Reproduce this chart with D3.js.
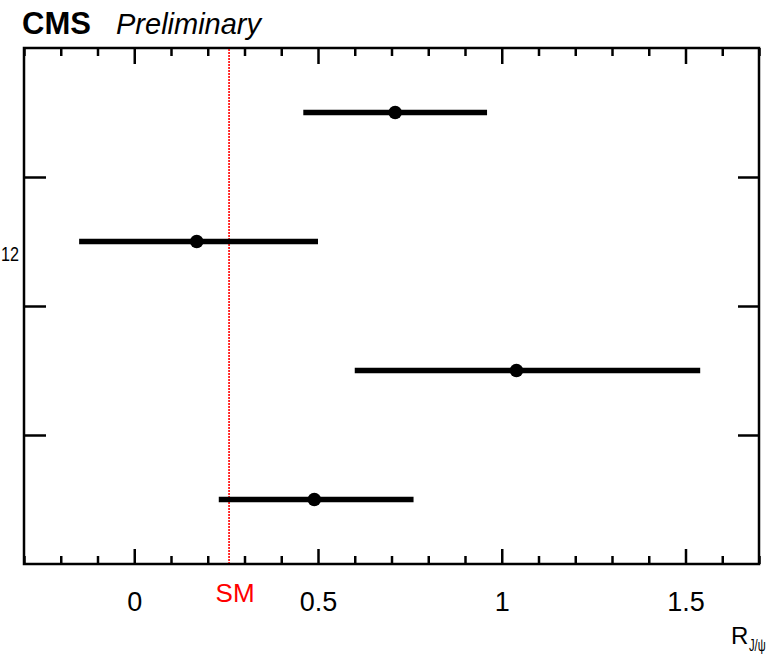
<!DOCTYPE html>
<html>
<head>
<meta charset="utf-8">
<script src="https://cdn.jsdelivr.net/npm/d3@7"></script>
<style>
  html, body { margin: 0; padding: 0; background: #fff; }
  svg { display: block; font-family: "Liberation Sans", Arial, Helvetica, sans-serif; }
</style>
</head>
<body>
<svg id="chart" width="769" height="660"></svg>
<script>
// Measurements of R(J/psi), one per row, top to bottom
const rowIndex = [0, 1, 2, 3];
const centralValues = [0.71, 0.17, 1.04, 0.49];
const errorsDown = [0.25, 0.32, 0.44, 0.26];
const errorsUp = [0.25, 0.33, 0.50, 0.27];

// Standard Model prediction
const smValue = [0.258];
const smLabel = ["SM"];

// Axis labelling
const xMajorTicks = [0, 0.5, 1, 1.5];
const xTickLabels = ["0", "0.5", "1", "1.5"];
const yBoundaries = [1, 2, 3];
const yStrayLabel = ["12"];
const yStrayPos = [2.41];

const svg = d3.select("#chart");
const frame = { left: 24, right: 759, top: 48, bottom: 564 };

const x = d3.scaleLinear().domain([-0.3, 1.7]).range([frame.left, frame.right]);
const y = d3.scaleLinear().domain([0, rowIndex.length]).range([frame.bottom, frame.top]);
const rowY = i => y(rowIndex.length - i - 0.5);

// Frame
svg.append("rect")
  .attr("x", frame.left).attr("y", frame.top)
  .attr("width", frame.right - frame.left).attr("height", frame.bottom - frame.top)
  .attr("fill", "none").attr("stroke", "#000").attr("stroke-width", 2.5);

// X ticks (bottom and top), major every 0.5 and minor every 0.1
const minor = d3.range(-3, 18).map(v => v / 10).filter(v => !xMajorTicks.some(m => Math.abs(m - v) < 1e-9));
const bottomAxis = d3.axisBottom(x).tickValues(xMajorTicks).tickFormat((d, i) => xTickLabels[i]).tickSize(-15).tickPadding(28);
const gB = svg.append("g").attr("transform", `translate(0,${frame.bottom})`).call(bottomAxis);
gB.select(".domain").remove();
gB.selectAll(".tick line").attr("stroke-width", 2.5);
gB.selectAll(".tick text").attr("font-size", 27).attr("fill", "#000")
  .attr("font-family", "Liberation Sans, Arial, sans-serif");

const bottomMinor = d3.axisBottom(x).tickValues(minor).tickFormat("").tickSize(-8);
const gBm = svg.append("g").attr("transform", `translate(0,${frame.bottom})`).call(bottomMinor);
gBm.select(".domain").remove();
gBm.selectAll(".tick line").attr("stroke-width", 2.5);

const topAxis = d3.axisTop(x).tickValues(xMajorTicks).tickFormat("").tickSize(-16);
const gT = svg.append("g").attr("transform", `translate(0,${frame.top})`).call(topAxis);
gT.select(".domain").remove();
gT.selectAll(".tick line").attr("stroke-width", 2.5);
const topMinor = d3.axisTop(x).tickValues(minor).tickFormat("").tickSize(-8);
const gTm = svg.append("g").attr("transform", `translate(0,${frame.top})`).call(topMinor);
gTm.select(".domain").remove();
gTm.selectAll(".tick line").attr("stroke-width", 2.5);

// Y ticks at row boundaries, both sides
const leftAxis = d3.axisLeft(y).tickValues(yBoundaries).tickFormat("").tickSize(-22);
const gL = svg.append("g").attr("transform", `translate(${frame.left},0)`).call(leftAxis);
gL.select(".domain").remove();
gL.selectAll(".tick line").attr("stroke-width", 2.5);
const rightAxis = d3.axisRight(y).tickValues(yBoundaries).tickFormat("").tickSize(-21);
const gR = svg.append("g").attr("transform", `translate(${frame.right},0)`).call(rightAxis);
gR.select(".domain").remove();
gR.selectAll(".tick line").attr("stroke-width", 2.5);

// Leftover y label, narrowed to fit the left margin
svg.append("text")
  .attr("transform", `translate(1,${y(yStrayPos[0]) + 8}) scale(0.77,1)`)
  .attr("font-size", 21).attr("fill", "#000")
  .text(yStrayLabel[0]);

// SM line
svg.append("line")
  .attr("x1", x(smValue[0])).attr("x2", x(smValue[0]))
  .attr("y1", frame.top + 1).attr("y2", frame.bottom - 1)
  .attr("stroke", "#ff0000").attr("stroke-width", 1.6)
  .attr("stroke-dasharray", "2,1");
svg.append("text")
  .attr("x", x(smValue[0]) + 6).attr("y", 602)
  .attr("text-anchor", "middle").attr("font-size", 26).attr("fill", "#ff0000")
  .text(smLabel[0]);

// Error bars and central values
const pts = svg.append("g");
pts.selectAll("line.err").data(rowIndex).join("line")
  .attr("class", "err")
  .attr("x1", i => x(centralValues[i] - errorsDown[i]))
  .attr("x2", i => x(centralValues[i] + errorsUp[i]))
  .attr("y1", i => rowY(i)).attr("y2", i => rowY(i))
  .attr("stroke", "#000").attr("stroke-width", 5.5);
pts.selectAll("circle").data(rowIndex).join("circle")
  .attr("cx", i => x(centralValues[i]))
  .attr("cy", i => rowY(i))
  .attr("r", 6.8).attr("fill", "#000");

// Header
svg.append("text")
  .attr("x", 22).attr("y", 34)
  .attr("font-size", 31).attr("font-weight", "bold").attr("fill", "#000")
  .text("CMS");
svg.append("text")
  .attr("x", 116).attr("y", 34)
  .attr("font-size", 29).attr("font-style", "italic").attr("fill", "#000")
  .text("Preliminary");

// X axis title
svg.append("text")
  .attr("x", 731).attr("y", 644)
  .attr("font-size", 24).attr("fill", "#000")
  .text("R");
svg.append("text")
  .attr("transform", "translate(749,651) scale(0.66,1)")
  .attr("font-size", 17).attr("fill", "#000")
  .text("J/ψ");
</script>
</body>
</html>
